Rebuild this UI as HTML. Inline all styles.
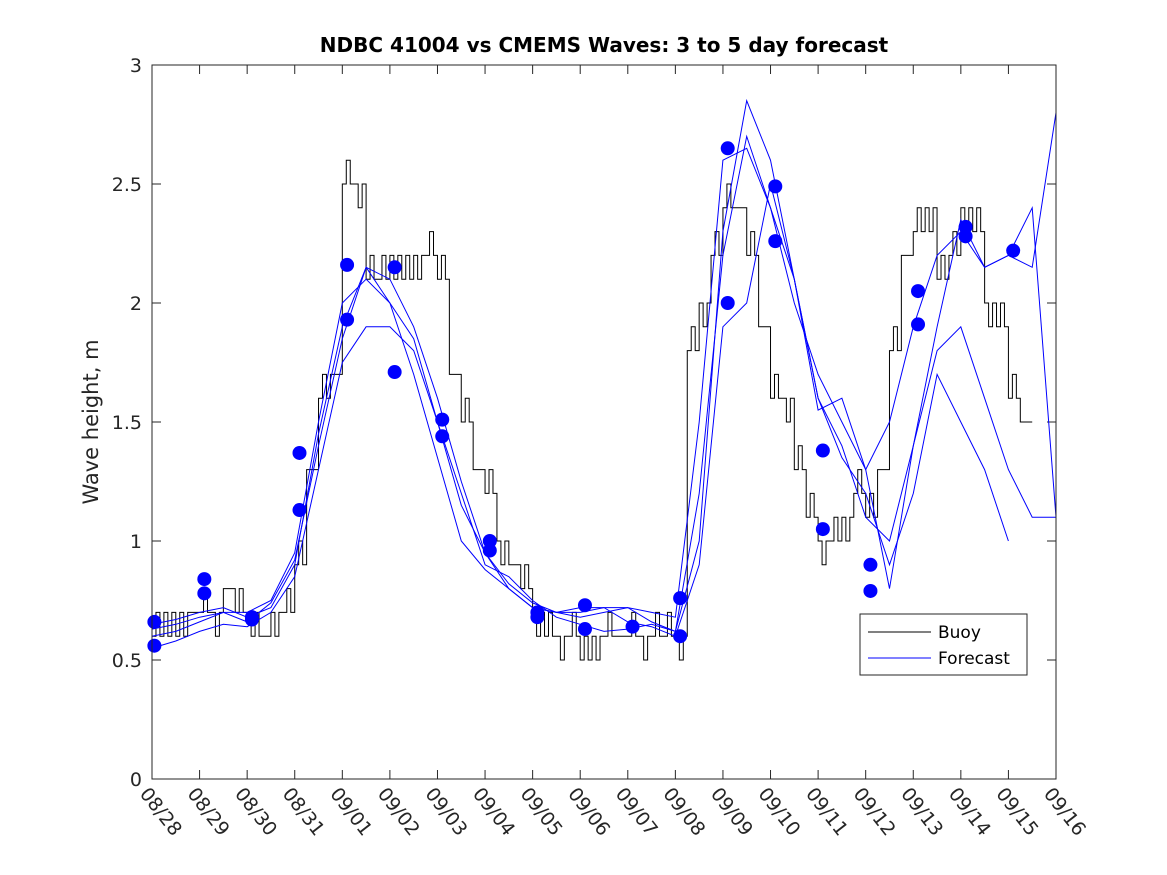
<!DOCTYPE html>
<html><head><meta charset="utf-8"><style>
body{margin:0;background:#fff;}
svg{display:block;font-family:"DejaVu Sans","Liberation Sans",sans-serif;}
</style></head><body>
<svg id="chart" width="1167" height="875" viewBox="0 0 1167 875" xmlns="http://www.w3.org/2000/svg">
<rect x="0" y="0" width="1167" height="875" fill="#fff"/>
<text x="604" y="52" text-anchor="middle" font-size="20" font-weight="bold" fill="#000">NDBC 41004 vs CMEMS Waves: 3 to 5 day forecast</text>
<text transform="translate(98,422) rotate(-90)" text-anchor="middle" font-size="21" fill="#262626">Wave height, m</text>
<g id="plot"></g>
<rect x="152" y="65" width="904" height="714" fill="none" stroke="#262626" stroke-width="1"/>
<g>
<rect x="860" y="614" width="167" height="61" fill="#fff" stroke="#262626"/>
<line x1="868" y1="632" x2="931" y2="632" stroke="#000"/>
<text x="938" y="638" font-size="17" fill="#000">Buoy</text>
<line x1="868" y1="658" x2="931" y2="658" stroke="#00f"/>
<text x="938" y="664" font-size="17" fill="#000">Forecast</text>
</g>
</svg>
<script>
const xTickLabels=["08/28","08/29","08/30","08/31","09/01","09/02","09/03","09/04","09/05","09/06","09/07","09/08","09/09","09/10","09/11","09/12","09/13","09/14","09/15","09/16"];
const yTickValues=[0,0.5,1,1.5,2,2.5,3];
// buoy: values every 0.25 day starting day 0
const buoyValues=[0.6,0.65,0.6,0.7,0.65,0.7,0.75,0.7,0.7,0.55,0.7,0.7,0.9,1.3,1.6,1.7,2.5,2.5,2.1,2.1,2.2,2.1,2.2,2.2,2.1,1.7,1.5,1.3,1.2,1.0,0.85,0.75,0.65,0.6,0.6,0.55,0.5,0.55,0.6,0.6,0.6,0.6,0.6,0.6,0.6,1.8,2.0,2.2,2.4,2.4,2.2,1.9,1.6,1.6,1.3,1.1,1.0,1.0,1.05,1.2,1.1,1.3,1.8,2.2,2.3,2.4,2.1,2.2,2.4,2.3,2.0,1.9,1.6,1.5];
const buoySpikes=[0.1,-0.05,0.08,-0.04,0.1,-0.08,0.05,0.12,-0.1,0.06,-0.07,0.1];
// forecasts: values every 0.5 day starting day 0
const forecastA=[0.65,0.67,0.7,0.72,0.68,0.72,0.9,1.45,1.9,2.15,2.1,1.9,1.6,1.25,0.95,0.8,0.72,0.7,0.68,0.7,0.72,0.7,0.68,1.5,2.6,2.65,2.4,2.0,1.7,1.5,1.3,1.5,1.9,2.2,2.3,2.15,2.2,2.15,2.8];
const forecastB=[0.55,0.58,0.62,0.65,0.64,0.7,0.85,1.3,1.75,1.9,1.9,1.8,1.5,1.2,0.9,0.85,0.75,0.68,0.65,0.62,0.63,0.65,0.62,1.2,2.2,2.7,2.4,2.1,1.6,1.4,1.1,1.0,1.4,1.8,1.9,1.6,1.3,1.1,1.1];
const forecastC=[0.6,0.62,0.66,0.7,0.7,0.75,0.95,1.5,2.0,2.1,2.0,1.7,1.35,1.0,0.88,0.8,0.72,0.7,0.7,0.72,0.72,0.66,0.62,1.0,2.3,2.85,2.6,2.1,1.6,1.35,1.2,0.9,1.2,1.7,1.5,1.3,1.0,null,null];
const forecastD=[0.63,0.65,0.68,0.7,0.66,0.74,0.92,1.4,1.85,2.15,2.0,1.85,1.5,1.15,0.95,0.82,0.74,0.7,0.72,0.72,0.66,0.64,0.6,0.9,1.9,2.0,2.5,2.1,1.55,1.6,1.3,0.8,1.4,1.9,2.35,2.15,2.2,2.4,1.1];
const markerDays=[0.05,0.05,1.1,1.1,2.1,2.1,3.1,3.1,4.1,4.1,5.1,5.1,6.1,6.1,7.1,7.1,8.1,8.1,9.1,9.1,10.1,11.1,11.1,12.1,12.1,13.1,13.1,14.1,14.1,15.1,15.1,16.1,16.1,17.1,17.1,18.1];
const markerValues=[0.66,0.56,0.84,0.78,0.68,0.67,1.37,1.13,2.16,1.93,2.15,1.71,1.51,1.44,1.00,0.96,0.70,0.68,0.73,0.63,0.64,0.76,0.60,2.65,2.00,2.49,2.26,1.38,1.05,0.90,0.79,2.05,1.91,2.32,2.28,2.22];

const X=d=>152+d*(904/19), Y=v=>779-v*238;
const NS="http://www.w3.org/2000/svg";
const g=document.getElementById('plot');
function mk(t,a){const e=document.createElementNS(NS,t);for(const k in a)e.setAttribute(k,a[k]);g.appendChild(e);return e;}
yTickValues.forEach(v=>{
  const t=mk('line',{x1:152,y1:Y(v),x2:161,y2:Y(v),stroke:'#262626'});
  
  
  const t2=mk('line',{x1:1047,y1:Y(v),x2:1056,y2:Y(v),stroke:'#262626'});
  
  
  const l=mk('text',{x:142,y:Y(v)+7,'text-anchor':'end','font-size':19,fill:'#262626'});
  l.textContent=String(v);
  
  
});
xTickLabels.forEach((s,i)=>{
  const x=X(i);
  const t=mk('line',{x1:x,y1:779,x2:x,y2:770,stroke:'#262626'});
  
  
  const t2=mk('line',{x1:x,y1:65,x2:x,y2:74,stroke:'#262626'});
  
  
  const l=mk('text',{transform:`translate(${x-13},${794}) rotate(52)`,'font-size':19,fill:'#262626'});
  l.textContent=s;
  
  
});
let p=[];
buoyValues.forEach((v,i)=>{
  for(let k=0;k<3;k++){
    const d=i*0.25+k*0.0833;
    const jv=k===1? v+buoySpikes[(i)%buoySpikes.length]:v;
    const yy=Y(Math.round(jv*10)/10);
    p.push(X(d)+','+yy); p.push(X(d+0.0833)+','+yy);
  }
});
const bl=mk('polyline',{points:p.join(' '),fill:'none',stroke:'#000','stroke-width':1});


[forecastA,forecastB,forecastC,forecastD].forEach((arr,j)=>{
  let d='';let pen=false;
  arr.forEach((v,i)=>{
    if(v===null){pen=false;return;}
    d+=(pen?'L':'M')+X(i*0.5).toFixed(1)+','+Y(v).toFixed(1)+' ';pen=true;
  });
  const e=mk('path',{d:d,fill:'none',stroke:'#00f','stroke-width':1});
  
  
});
markerDays.forEach((dd,i)=>{
  const c=mk('circle',{cx:X(dd),cy:Y(markerValues[i]),r:7,fill:'#00f'});
  
  
});
</script>
</body></html>
